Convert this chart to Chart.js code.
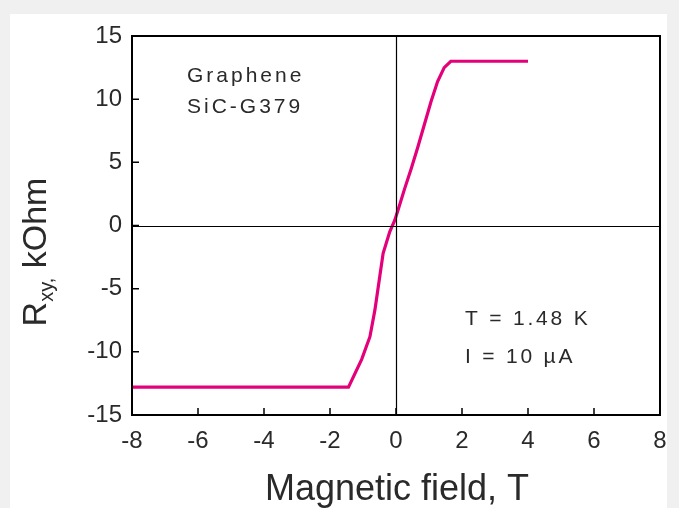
<!DOCTYPE html>
<html>
<head>
<meta charset="utf-8">
<script src="https://cdn.jsdelivr.net/npm/chart.js"></script>
<style>
  html, body { margin: 0; padding: 0; background: #f0f0f0; }
  #wrap { position: absolute; left: 0; top: 0; width: 679px; height: 508px; }
</style>
</head>
<body>
<div id="wrap"><canvas id="hall-chart" width="679" height="508"></canvas></div>
<script>
// Hall resistance vs magnetic field
const fieldT = [-8, -1.44, -1.04, -0.79, -0.64, -0.49, -0.39, -0.19, -0.04, 0.06, 0.26, 0.46, 0.66, 0.86, 1.06, 1.26, 1.46, 1.66, 4.0]
const rxyKOhm = [-12.8, -12.8, -10.6, -8.8, -6.7, -4.0, -2.2, -0.5, 0.4, 1.2, 2.9, 4.5, 6.2, 8.0, 9.8, 11.4, 12.5, 13.0, 13.0]

const xTicks = [-8, -6, -4, -2, 0, 2, 4, 6, 8]
const yTicks = [-15, -10, -5, 0, 5, 10, 15]

const sampleLines = ["Graphene", "SiC-G379"]
const conditionLines = ["T = 1.48 K", "I = 10 µA"]

const FONT = '"Liberation Sans", Arial, sans-serif'
const INK = '#2a2a2a'

const points = fieldT.map((b, i) => ({ x: b, y: rxyKOhm[i] }))

// background panel, frame, inner ticks, zero lines and texts
const decor = {
  id: 'decor',
  beforeDraw(chart) {
    const c = chart.ctx
    c.save()
    c.fillStyle = '#f0f0f0'
    c.fillRect(0, 0, chart.width, chart.height)
    c.fillStyle = '#ffffff'
    c.fillRect(10, 14, 657, 494)
    c.restore()
  },
  afterDatasetsDraw(chart) {
    const c = chart.ctx
    const a = chart.chartArea
    const xs = chart.scales.x
    const ys = chart.scales.y
    c.save()
    // zero lines
    c.strokeStyle = '#000'
    c.lineWidth = 1.2
    const x0 = Math.round(xs.getPixelForValue(0)) + 0.5
    const y0 = Math.round(ys.getPixelForValue(0)) + 0.5
    c.beginPath()
    c.moveTo(x0, a.top); c.lineTo(x0, a.bottom)
    c.moveTo(a.left, y0); c.lineTo(a.right, y0)
    c.stroke()
    // inner ticks
    c.lineWidth = 1.5
    c.beginPath()
    xs.ticks.forEach(t => {
      const px = xs.getPixelForValue(t.value)
      c.moveTo(px, a.bottom); c.lineTo(px, a.bottom - 7)
    })
    ys.ticks.forEach(t => {
      const py = ys.getPixelForValue(t.value)
      c.moveTo(a.left, py); c.lineTo(a.left + 7, py)
    })
    c.stroke()
    // frame
    c.lineWidth = 2
    c.strokeRect(a.left, a.top, a.right - a.left, a.bottom - a.top)

    // annotations
    c.fillStyle = INK
    c.textBaseline = 'middle'
    c.textAlign = 'left'
    c.font = `21px ${FONT}`
    c.letterSpacing = '3px'
    c.fillText(sampleLines[0], 187, 76)
    c.fillText(sampleLines[1], 187, 107)
    c.font = `21px ${FONT}`
    c.letterSpacing = '2.8px'
    c.fillText(conditionLines[0], 465, 319)
    c.fillText(conditionLines[1], 465, 357)
    c.letterSpacing = '0px'

    // x axis title
    c.font = `36px ${FONT}`
    c.textAlign = 'center'
    c.textBaseline = 'alphabetic'
    c.fillText('Magnetic field, T', 397, 500)

    // y axis title with subscript
    c.translate(46, 252)
    c.rotate(-Math.PI / 2)
    const big = `34px ${FONT}`
    const small = `20px ${FONT}`
    c.font = big
    const wR = c.measureText('R').width
    const wK = c.measureText(' kOhm').width
    c.font = small
    const wS = c.measureText('xy,').width
    let x = -(wR + wS + wK) / 2
    c.textAlign = 'left'
    c.font = big
    c.fillText('R', x, 0); x += wR
    c.font = small
    c.fillText('xy,', x, 7); x += wS
    c.font = big
    c.fillText(' kOhm', x, 0)
    c.restore()
  }
}

const ctx = document.getElementById('hall-chart').getContext('2d')
const chart = new Chart(ctx, {
  type: 'scatter',
  data: {
    datasets: [{
      data: points,
      showLine: true,
      borderColor: 'rgb(228, 0, 122)',
      borderWidth: 3.2,
      pointRadius: 0,
      fill: false,
      tension: 0
    }]
  },
  options: {
    responsive: false,
    animation: false,
    layout: { padding: { left: 0, top: 36, right: 19, bottom: 0 } },
    plugins: { legend: { display: false }, tooltip: { enabled: false } },
    scales: {
      x: {
        type: 'linear',
        min: xTicks[0],
        max: xTicks[xTicks.length - 1],
        afterFit(scale) { scale.height = 93 },
        afterBuildTicks(scale) { scale.ticks = xTicks.map(v => ({ value: v })) },
        grid: { display: false, drawTicks: false },
        border: { display: false },
        ticks: { color: INK, padding: 12, font: { family: FONT, size: 24 } }
      },
      y: {
        type: 'linear',
        min: yTicks[0],
        max: yTicks[yTicks.length - 1],
        afterFit(scale) { scale.width = 132 },
        afterBuildTicks(scale) { scale.ticks = yTicks.map(v => ({ value: v })) },
        grid: { display: false, drawTicks: false },
        border: { display: false },
        ticks: { color: INK, padding: 10, font: { family: FONT, size: 24 } }
      }
    }
  },
  plugins: [decor]
})
</script>
</body>
</html>
